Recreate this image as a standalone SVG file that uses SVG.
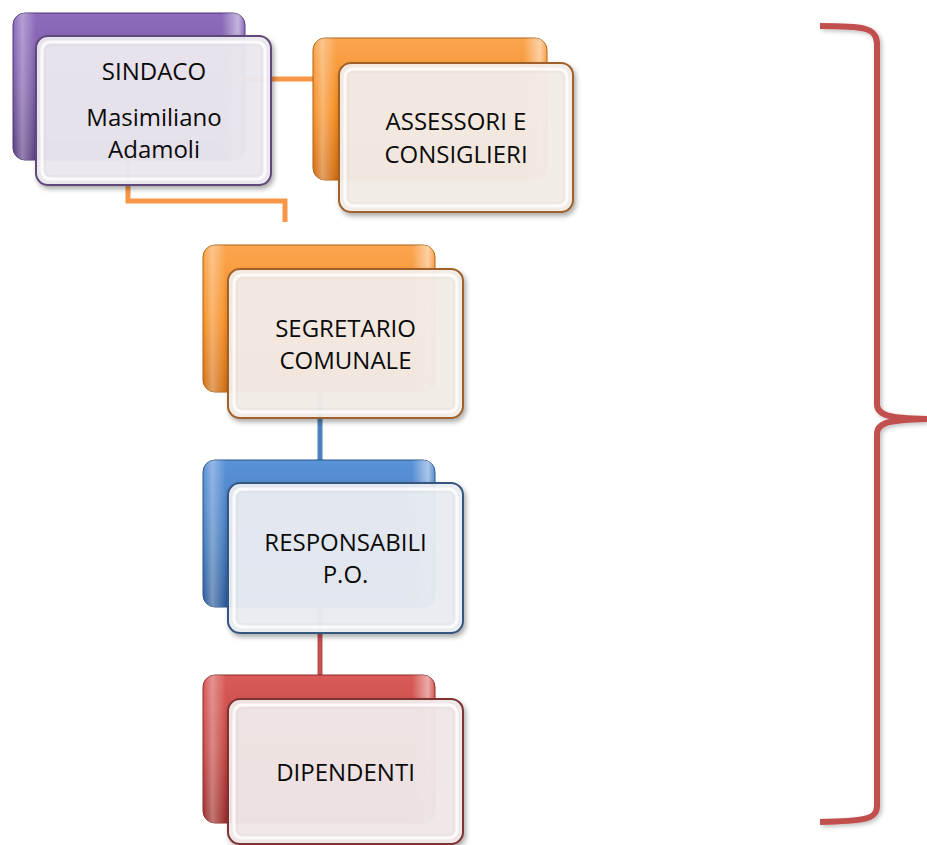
<svg xmlns="http://www.w3.org/2000/svg" width="927" height="845" viewBox="0 0 927 845">
<style>
.lbl{font-family:"Open Sans","Liberation Sans",sans-serif;font-size:24px;fill:#0a0a0a;text-anchor:middle}
.conn{fill:none;stroke-width:5}
.front{stroke-width:2;filter:url(#sh);fill-opacity:0.95}
.bevel{fill:none;stroke:#ffffff;stroke-opacity:0.8;stroke-width:3}
.bevel2{fill:none;stroke:#000;stroke-opacity:0.04;stroke-width:1}
.gloss{fill:url(#gl)}
</style>
<defs>
<filter id="sh" x="-10%" y="-10%" width="125%" height="130%">
<feDropShadow dx="2" dy="3" stdDeviation="2.5" flood-color="#000" flood-opacity="0.35"/>
</filter>
<filter id="sh2" x="-20%" y="-5%" width="150%" height="110%">
<feDropShadow dx="2" dy="2" stdDeviation="2" flood-color="#000" flood-opacity="0.25"/>
</filter>
<linearGradient id="gP" x1="0" y1="0" x2="0" y2="1"><stop offset="0" stop-color="#8d6cbd"/><stop offset="0.5" stop-color="#7a5aa6"/><stop offset="1" stop-color="#583d80"/></linearGradient>
<linearGradient id="gO" x1="0" y1="0" x2="0" y2="1"><stop offset="0" stop-color="#fba550"/><stop offset="0.5" stop-color="#f58e22"/><stop offset="1" stop-color="#d26c10"/></linearGradient>
<linearGradient id="gB" x1="0" y1="0" x2="0" y2="1"><stop offset="0" stop-color="#5a92d8"/><stop offset="0.5" stop-color="#467cc0"/><stop offset="1" stop-color="#2b5a9a"/></linearGradient>
<linearGradient id="gR" x1="0" y1="0" x2="0" y2="1"><stop offset="0" stop-color="#d95a56"/><stop offset="0.5" stop-color="#c44744"/><stop offset="1" stop-color="#9b2c29"/></linearGradient>
<linearGradient id="gl" x1="0" y1="0" x2="1" y2="0"><stop offset="0" stop-color="#fff" stop-opacity="0"/><stop offset="0.04" stop-color="#fff" stop-opacity="0.35"/><stop offset="0.1" stop-color="#fff" stop-opacity="0"/><stop offset="0.9" stop-color="#fff" stop-opacity="0"/><stop offset="0.97" stop-color="#fff" stop-opacity="0.5"/><stop offset="1" stop-color="#fff" stop-opacity="0"/></linearGradient>
</defs>

<g id="connectors">
<path class="conn" stroke="#F79646" d="M245 79 H313"/>
<path class="conn" stroke="#F79646" d="M128 160 V201 H285 V222"/>
<path class="conn" stroke="#4F81BD" d="M320 392 V460"/>
<path class="conn" stroke="#C0504D" d="M320 607 V675"/>
</g>

<g id="sindaco">
<rect x="13" y="13" width="232" height="147" rx="12" fill="url(#gP)" stroke="#4f3775" stroke-width="1"/>
<rect x="13" y="13" width="232" height="147" rx="12" class="gloss"/>
<rect x="36" y="36" width="235" height="149" rx="12" class="front" fill="#ece9f0" stroke="#5e4a7a"/>
<rect x="42" y="42" width="223" height="137" rx="8" class="bevel"/>
<rect x="45" y="45" width="217" height="131" rx="6" class="bevel2"/>
<text class="lbl" x="154" y="80">SINDACO</text>
<text class="lbl"><tspan x="154" y="126">Masimiliano</tspan><tspan x="154" y="158">Adamoli</tspan></text>
</g>

<g id="assessori">
<rect x="313" y="38" width="234" height="142" rx="12" fill="url(#gO)" stroke="#b0600f" stroke-width="1"/>
<rect x="313" y="38" width="234" height="142" rx="12" class="gloss"/>
<rect x="339" y="63" width="234" height="149" rx="12" class="front" fill="#f3ede8" stroke="#a0612a"/>
<rect x="345" y="69" width="222" height="137" rx="8" class="bevel"/>
<rect x="348" y="72" width="216" height="131" rx="6" class="bevel2"/>
<text class="lbl"><tspan x="456" y="130">ASSESSORI E</tspan><tspan x="456" y="163">CONSIGLIERI</tspan></text>
</g>

<g id="segretario">
<rect x="203" y="245" width="232" height="147" rx="12" fill="url(#gO)" stroke="#b0600f" stroke-width="1"/>
<rect x="203" y="245" width="232" height="147" rx="12" class="gloss"/>
<rect x="228" y="269" width="235" height="149" rx="12" class="front" fill="#f3ede8" stroke="#a0612a"/>
<rect x="234" y="275" width="223" height="137" rx="8" class="bevel"/>
<rect x="237" y="278" width="217" height="131" rx="6" class="bevel2"/>
<text class="lbl"><tspan x="345.5" y="337">SEGRETARIO</tspan><tspan x="345.5" y="369">COMUNALE</tspan></text>
</g>

<g id="responsabili">
<rect x="203" y="460" width="232" height="147" rx="12" fill="url(#gB)" stroke="#2b5689" stroke-width="1"/>
<rect x="203" y="460" width="232" height="147" rx="12" class="gloss"/>
<rect x="228" y="483" width="235" height="150" rx="12" class="front" fill="#eaedf2" stroke="#35577f"/>
<rect x="234" y="489" width="223" height="138" rx="8" class="bevel"/>
<rect x="237" y="492" width="217" height="132" rx="6" class="bevel2"/>
<text class="lbl"><tspan x="345.5" y="551">RESPONSABILI</tspan><tspan x="345.5" y="583">P.O.</tspan></text>
</g>

<g id="dipendenti">
<rect x="203" y="675" width="232" height="148" rx="12" fill="url(#gR)" stroke="#8c2c2a" stroke-width="1"/>
<rect x="203" y="675" width="232" height="148" rx="12" class="gloss"/>
<rect x="228" y="699" width="235" height="145" rx="12" class="front" fill="#f1e9e9" stroke="#7e3331"/>
<rect x="234" y="705" width="223" height="133" rx="8" class="bevel"/>
<rect x="237" y="708" width="217" height="127" rx="6" class="bevel2"/>
<text class="lbl" x="345.5" y="781">DIPENDENTI</text>
</g>

<g id="brace">
<path d="M820 26 C862 26 877 27 877 44 L877 404 C877 416 890 418 927 419 C890 420 877 422 877 434 L877 806 C877 820 862 821 820 822" fill="none" stroke="#C0504D" stroke-width="6" filter="url(#sh2)"/>
</g>
</svg>
